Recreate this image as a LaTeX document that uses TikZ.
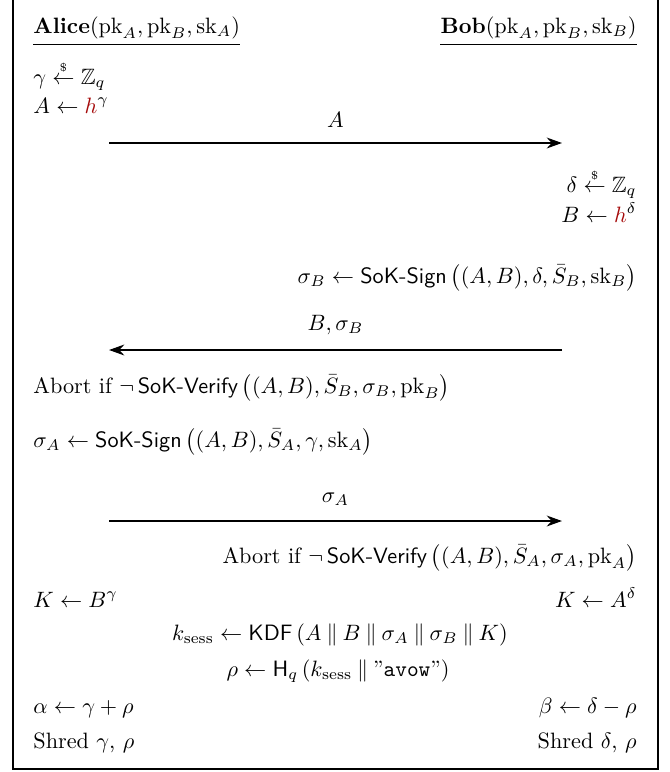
\documentclass[tikz,border=0pt]{standalone}
\usepackage{amsmath,amssymb}
\usepackage{tikz}
\usetikzlibrary{arrows.meta}
\usepackage{xcolor}
\definecolor{hred}{RGB}{165,10,10}
\newcommand{\pk}{\mathrm{pk}}
\newcommand{\sk}{\mathrm{sk}}
\newcommand{\sok}[1]{\textsf{SoK-#1}}
\newcommand{\smp}{\stackrel{\scriptscriptstyle\$}{\leftarrow}}

\begin{document}
\begin{tikzpicture}[x=0.45pt,y=-0.45pt,>={Stealth[length=2.4mm,width=1.7mm]},
  lft/.style={anchor=base west,inner sep=0pt},
  rgt/.style={anchor=base east,inner sep=0pt},
  mid/.style={anchor=base,inner sep=0pt},
  msg/.style={->,line width=1.2pt}]
\useasboundingbox (0,0) rectangle (670,772);
% frame
\draw[line width=0.5pt] (13,0) -- (13,769) -- (658,769) -- (658,0);
% headers
\node[lft] (hdrA) at (33,33) {\textbf{Alice}$(\pk_A,\pk_B,\sk_A)$};
\node[rgt] (hdrB) at (637,33) {\textbf{Bob}$(\pk_A,\pk_B,\sk_B)$};
\draw[line width=0.6pt] ([yshift=-2.6pt]hdrA.south west) -- ([yshift=-2.6pt]hdrA.south east);
\draw[line width=0.6pt] ([yshift=-2.6pt]hdrB.south west) -- ([yshift=-2.6pt]hdrB.south east);
% Alice: first move
\node[lft] (gamA) at (33,84) {$\gamma \smp \mathbb{Z}_q$};
\node[lft] (hA) at (33,113) {$A \leftarrow \textcolor{hred}{h}^{\gamma}$};
\coordinate (m1s) at (109,143);
\coordinate (m1e) at (562,143);
\draw[msg] (m1s) -- node[above=3pt] {$A$} (m1e);
% Bob
\node[rgt] (delB) at (637,192) {$\delta \smp \mathbb{Z}_q$};
\node[rgt] (hB) at (637,222) {$B \leftarrow \textcolor{hred}{h}^{\delta}$};
\node[rgt] (sigB) at (637,283) {$\sigma_B \leftarrow \sok{Sign}\,\bigl((A,B),\delta,\bar{S}_B,\sk_B\bigr)$};
\coordinate (m2s) at (562,350);
\coordinate (m2e) at (109,350);
\draw[msg] (m2s) -- node[above=3pt] {$B,\sigma_B$} (m2e);
% Alice
\node[lft] (vfyA) at (33,393) {Abort if $\neg\,\sok{Verify}\,\bigl((A,B),\bar{S}_B,\sigma_B,\pk_B\bigr)$};
\node[lft] (sigA) at (33,447) {$\sigma_A \leftarrow \sok{Sign}\,\bigl((A,B),\bar{S}_A,\gamma,\sk_A\bigr)$};
\coordinate (m3s) at (109,521);
\coordinate (m3e) at (562,521);
\draw[msg] (m3s) -- node[above=3pt] {$\sigma_A$} (m3e);
\node[rgt] (vfyB) at (637,563) {Abort if $\neg\,\sok{Verify}\,\bigl((A,B),\bar{S}_A,\sigma_A,\pk_A\bigr)$};
% both sides
\node[lft] (keyA) at (33,607) {$K \leftarrow B^{\gamma}$};
\node[rgt] (keyB) at (637,607) {$K \leftarrow A^{\delta}$};
\node[mid] (kdf) at (340,640) {$k_{\text{sess}} \leftarrow \textsf{KDF}\,(A \mathbin{\|} B \mathbin{\|} \sigma_A \mathbin{\|} \sigma_B \mathbin{\|} K)$};
\node[mid] (rho) at (338,676) {$\rho \leftarrow \mathsf{H}_q\,(k_{\text{sess}} \mathbin{\|} \text{''}\texttt{avow}\text{''})$};
\node[lft] (alpA) at (33,713) {$\alpha \leftarrow \gamma + \rho$};
\node[rgt] (betB) at (637,713) {$\beta \leftarrow \delta - \rho$};
\node[lft] (shrA) at (33,748) {Shred $\gamma$, $\rho$};
\node[rgt] (shrB) at (637,748) {Shred $\delta$, $\rho$};
\end{tikzpicture}
\end{document}
